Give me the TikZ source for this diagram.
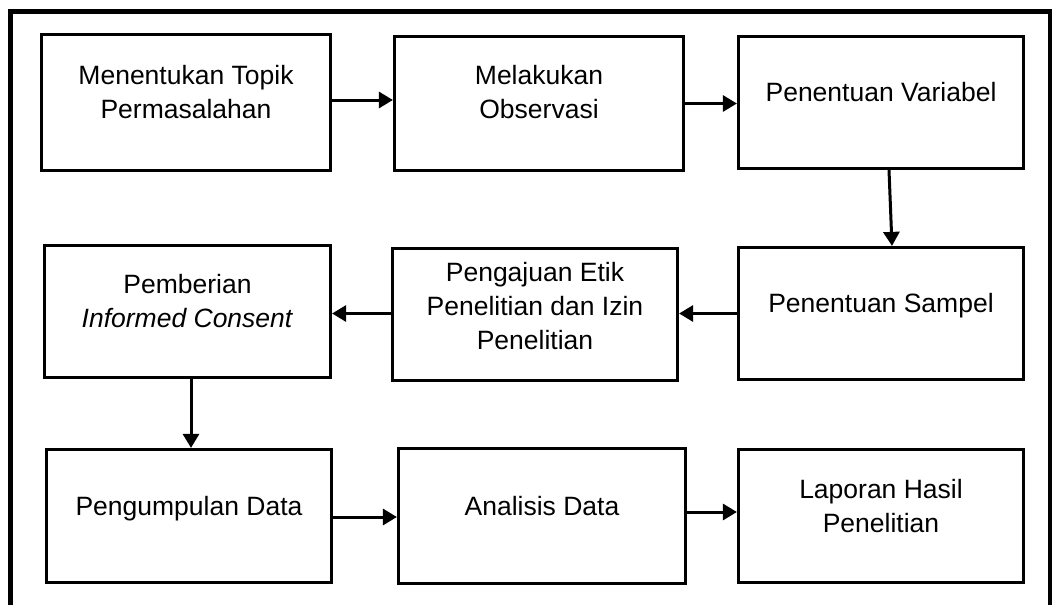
\documentclass[tikz,border=0pt]{standalone}
\usepackage{fontspec}
\setmainfont{Liberation Sans}
\usetikzlibrary{arrows.meta}
\begin{document}
\begin{tikzpicture}[x=1pt,y=-1pt,
  box/.style={draw, line width=3.2pt, inner sep=0pt, line join=miter},
  lbl/.style={font=\fontsize{26.5}{34}\selectfont, align=center, inner sep=0pt, anchor=base},
  arr/.style={line width=3pt, -{Triangle[length=14pt,width=16pt]}}]
\useasboundingbox (0,0) rectangle (1052,605);
\draw[line width=5pt, line join=miter] (10.5,605) -- (10.5,11.5) -- (1050,11.5) -- (1050,605);
% boxes
\node[box, minimum width=289pt, minimum height=136pt] (b1) at (186,102.5) {};
\node[box, minimum width=289pt, minimum height=134pt] (b2) at (539,103.5) {};
\node[box, minimum width=285pt, minimum height=132pt] (b3) at (881,102.5) {};
\node[box, minimum width=285pt, minimum height=132pt] (b4) at (881,313.5) {};
\node[box, minimum width=285pt, minimum height=132pt] (b5) at (535,314.5) {};
\node[box, minimum width=286pt, minimum height=132pt] (b6) at (187.5,311.5) {};
\node[box, minimum width=285pt, minimum height=133pt] (b7) at (189,516) {};
\node[box, minimum width=287pt, minimum height=135pt] (b8) at (542,516) {};
\node[box, minimum width=285pt, minimum height=133pt] (b9) at (881,516) {};
% texts (anchor base = baseline of the last line)
\node[lbl] (t1) at (186,118) {Menentukan Topik\\Permasalahan};
\node[lbl] (t2) at (539,118) {Melakukan\\Observasi};
\node[lbl] (t3) at (881,101) {Penentuan Variabel};
\node[lbl] (t4) at (881,312) {Penentuan Sampel};
\node[lbl] (t5) at (535,349) {Pengajuan Etik\\Penelitian dan Izin\\Penelitian};
\node[lbl] (t6) at (187.5,327) {Pemberian\\\textit{Informed Consent}};
\node[lbl] (t7) at (189,515) {Pengumpulan Data};
\node[lbl] (t8) at (542,515) {Analisis Data};
\node[lbl] (t9) at (881,532) {Laporan Hasil\\Penelitian};
% arrows
\draw[arr] ([yshift=2.5pt]b1.east) -- ([yshift=2.5pt]b1.east -| b2.west);
\draw[arr] (b2.east) -- (b2.east -| b3.west);
\draw[arr] ([xshift=8pt]b3.south) -- ([xshift=11pt]b4.north);
\draw[arr] (b4.west) -- (b4.west -| b5.east);
\draw[arr] ([yshift=1pt]b5.west) -- ([yshift=1pt]b5.west -| b6.east);
\draw[arr] ([xshift=3.5pt]b6.south) -- ([xshift=3.5pt]b6.south |- b7.north);
\draw[arr] ([yshift=-1pt]b7.east) -- ([yshift=-1pt]b7.east -| b8.west);
\draw[arr] ([yshift=4pt]b8.east) -- ([yshift=4pt]b8.east -| b9.west);
\end{tikzpicture}
\end{document}
